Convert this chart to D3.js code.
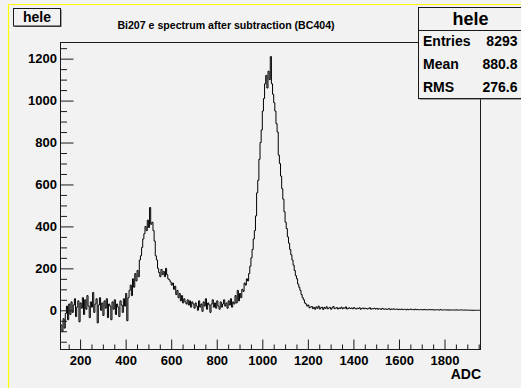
<!DOCTYPE html>
<html>
<head>
<meta charset="utf-8">
<script src="https://cdn.jsdelivr.net/npm/d3@7"></script>
<style>
  html, body { margin: 0; padding: 0; background: #f2f2f2; }
  svg { display: block; font-family: "Liberation Sans", Arial, sans-serif; }
</style>
</head>
<body>
<svg id="canvas" width="521" height="388"></svg>
<script>
// Histogram binning (ADC units)
const binStart = 115;
const binWidth = 5;

// Bin contents, split by region of the spectrum
// 115 .. 415 : noisy baseline
const baselineLow = [
  -70, -100, -40, -85, -15, 20, -45, 30, -20, 40,
  -10, 25, 55, -30, 15, 45, -55, 35, 10, 60,
  -20, 50, 5, 70, 20, -35, 40, 15, 85, -10,
  30, 55, -60, 25, 60, 0, 35, -25, 45, 10,
  55, -35, 30, 20, -45, 40, 5, 50, -20, 30,
  15, -30, 45, 25, -10, 55, 20, 80, -50, 60,
  95
];
// 420 .. 700 : first conversion-electron peak and its shoulder
const firstPeak = [
  120, 70, 150, 110, 175, 140, 190, 160, 240, 260,
  300, 340, 365, 400, 380, 430, 395, 490, 410, 420,
  380, 330, 260, 240, 200, 180, 160, 195, 170, 185,
  160, 200, 170, 150, 145, 135, 120, 130, 100, 115,
  75, 95, 60, 80, 45, 70, 35, 55, 40, 30,
  50, 25, 45, 15, 40, 30, 10
];
// 705 .. 940 : valley between the peaks
const valley = [
  35, 20, 0, 45, 15, 30, -5, 40, 20, 55,
  5, 35, 25, -10, 30, 50, 15, 35, 10, 45,
  20, 5, 40, 15, 30, 50, 20, 35, 10, 45,
  25, 55, 15, 40, 30, 70, 35, 95, 45, 80,
  60, 100, 90, 130, 120, 150, 140, 175
];
// 945 .. 1210 : second conversion-electron peak
const secondPeak = [
  210, 250, 290, 340, 380, 450, 560, 620, 720, 800,
  860, 950, 1010, 1080, 1120, 1060, 1140, 1100, 1210, 1080,
  1030, 990, 950, 890, 850, 740, 700, 640, 580, 530,
  470, 420, 390, 350, 320, 290, 265, 240, 215, 190,
  165, 150, 125, 110, 95, 75, 60, 50, 35, 30,
  20, 25, 12, 15
];
// 1215 .. 1955 : high-energy tail
const tail = [
  18, 8, 14, 5, 16, 10, 20, 6, 12, 15,
  4, 13, 9, 17, 7, 11, 14, 5, 12, 18,
  8, 10, 13, 6, 11, 9, 15, 7, 12, 10,
  16, 6, 9, 12, 8, 11, 7, 13, 9, 6,
  10, 8, 12, 5, 9, 11, 7, 10, 8, 6,
  9, 12, 5, 8, 7, 10, 6, 9, 5, 8,
  7, 4, 9, 6, 5, 7, 4, 6, 8, 3,
  6, 5, 7, 4, 5, 6, 3, 5, 4, 6,
  3, 5, 4, 2, 5, 3, 4, 6, 3, 4,
  2, 5, 3, 4, 2, 3, 4, 2, 3, 4,
  2, 3, 2, 4, 2, 3, 2, 3, 1, 2,
  3, 2, 1, 3, 2, 1, 2, 2, 1, 2,
  1, 2, 1, 1, 2, 1, 1, 2, 1, 1,
  1, 2, 1, 1, 1, 1, 1, 1, 0, 1,
  0, 0, 0, 0, 0, 0, 0, 0, 0
];
const counts = [].concat(baselineLow, firstPeak, valley, secondPeak, tail);

// Axis ticks
const xMajorTicks = [200, 400, 600, 800, 1000, 1200, 1400, 1600, 1800];
const yMajorTicks = [0, 200, 400, 600, 800, 1000, 1200];

// Texts
const histName = "hele";
const histTitle = "Bi207 e spectrum after subtraction (BC404)";
const xAxisTitle = "ADC";
const statsRows = [["Entries", "8293"], ["Mean", "880.8"], ["RMS", "276.6"]];

const svg = d3.select("#canvas");
const FONT = "'Liberation Sans', Arial, sans-serif";
const INK = "#1a1a1a";

svg.append("rect").attr("width", 521).attr("height", 388).attr("fill", "#f2f2f2");

// Pad border (left and top edges visible)
svg.append("path")
  .attr("d", "M8.5,388V4.5H521")
  .attr("fill", "none").attr("stroke", "#ffff00").attr("stroke-width", 1.2);

const x = d3.scaleLinear().domain([114, 1958]).range([60.5, 480.5]);
const y = d3.scaleLinear().domain([-187, 1277]).range([349.5, 42.5]);

svg.append("clipPath").attr("id", "frameClip")
  .append("rect").attr("x", 60.5).attr("y", 42.5).attr("width", 420).attr("height", 307);

// Histogram outline
const pts = counts.map((c, i) => [binStart + i * binWidth, c]);
pts.push([binStart + counts.length * binWidth, counts[counts.length - 1]]);
const line = d3.line().x(d => x(d[0])).y(d => y(d[1])).curve(d3.curveStepAfter);
svg.append("path")
  .attr("clip-path", "url(#frameClip)")
  .attr("d", line(pts))
  .attr("fill", "none").attr("stroke", "#000").attr("stroke-width", 1);

// Axes
function styleAxis(g, size) {
  g.select(".domain").remove();
  g.selectAll("line").attr("stroke", INK);
  g.selectAll("text").attr("font-family", FONT).attr("font-size", size)
    .attr("font-weight", "bold").attr("fill", "#000");
}

const xMinor = d3.range(150, 1958, 50).filter(v => v % 200 !== 0);
const yMinor = d3.range(-150, 1277, 50).filter(v => v % 200 !== 0);

svg.append("g").attr("transform", "translate(0,349.5)")
  .call(d3.axisBottom(x).tickValues(xMinor).tickSize(-5).tickSizeOuter(0).tickFormat(() => ""))
  .call(g => styleAxis(g, 13));
svg.append("g").attr("transform", "translate(0,349.5)")
  .call(d3.axisBottom(x).tickValues(xMajorTicks).tickSize(-10).tickSizeOuter(0).tickPadding(5.8).tickFormat(d3.format("d")))
  .call(g => styleAxis(g, 13));

svg.append("g").attr("transform", "translate(60.5,0)")
  .call(d3.axisLeft(y).tickValues(yMinor).tickSize(-6.5).tickSizeOuter(0).tickFormat(() => ""))
  .call(g => styleAxis(g, 13));
svg.append("g").attr("transform", "translate(60.5,0)")
  .call(d3.axisLeft(y).tickValues(yMajorTicks).tickSize(-13).tickSizeOuter(0).tickPadding(3.5).tickFormat(d3.format("d")))
  .call(g => styleAxis(g, 13));

// Frame
svg.append("rect")
  .attr("x", 60.5).attr("y", 42.5).attr("width", 420).attr("height", 307)
  .attr("fill", "none").attr("stroke", INK).attr("stroke-width", 1);

// X axis title
svg.append("text").attr("x", 481).attr("y", 378.5).attr("text-anchor", "end")
  .attr("font-family", FONT).attr("font-size", 14).attr("font-weight", "bold").text(xAxisTitle);

// Histogram title
svg.append("text").attr("x", 226).attr("y", 28.5).attr("text-anchor", "middle")
  .attr("font-family", FONT).attr("font-size", 10.6).attr("font-weight", "bold").text(histTitle);

// Name box (top left)
svg.append("rect").attr("x", 14.5).attr("y", 9.5).attr("width", 47).attr("height", 17.5).attr("fill", "#555");
svg.append("rect").attr("x", 13.5).attr("y", 8.5).attr("width", 47).attr("height", 17.5)
  .attr("fill", "#f2f2f2").attr("stroke", INK).attr("stroke-width", 1);
svg.append("text").attr("x", 37).attr("y", 21.5).attr("text-anchor", "middle")
  .attr("font-family", FONT).attr("font-size", 14).attr("font-weight", "bold").text(histName);

// Statistics box (top right)
svg.append("rect").attr("x", 419.5).attr("y", 8.5).attr("width", 110).attr("height", 91).attr("fill", "#555");
svg.append("rect").attr("x", 418.5).attr("y", 7.5).attr("width", 110).attr("height", 91)
  .attr("fill", "#f2f2f2").attr("stroke", INK).attr("stroke-width", 1);
svg.append("line").attr("x1", 418.5).attr("x2", 528).attr("y1", 30.5).attr("y2", 30.5)
  .attr("stroke", INK).attr("stroke-width", 1);
svg.append("text").attr("x", 470.5).attr("y", 25).attr("text-anchor", "middle")
  .attr("font-family", FONT).attr("font-size", 18).attr("font-weight", "bold").text(histName);
const rowY = [45.5, 68.5, 92];
statsRows.forEach((r, i) => {
  svg.append("text").attr("x", 423).attr("y", rowY[i])
    .attr("font-family", FONT).attr("font-size", 14).attr("font-weight", "bold").text(r[0]);
  svg.append("text").attr("x", 517.5).attr("y", rowY[i]).attr("text-anchor", "end")
    .attr("font-family", FONT).attr("font-size", 14).attr("font-weight", "bold").text(r[1]);
});
</script>
</body>
</html>
